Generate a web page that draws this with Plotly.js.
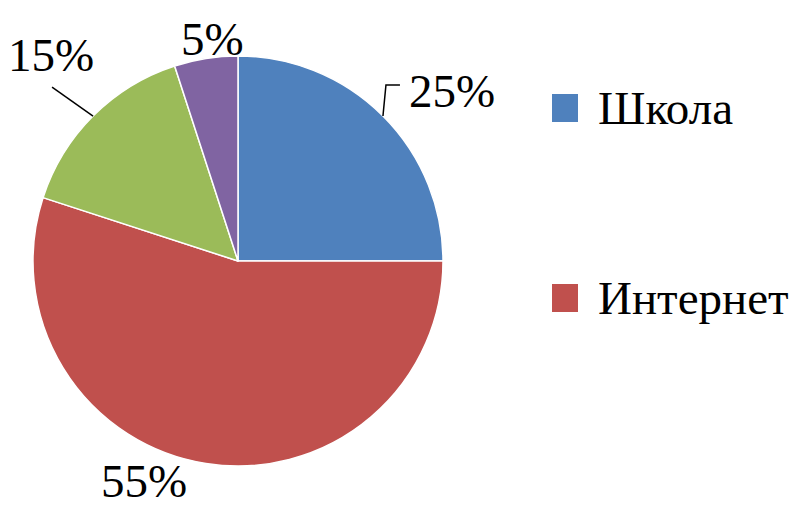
<!DOCTYPE html>
<html>
<head>
<meta charset="utf-8">
<script src="https://cdn.plot.ly/plotly-3.0.1.min.js"></script>
<style>html,body{margin:0;padding:0;background:#fff;}#chart{width:793px;height:507px;}</style>
</head>
<body>
<div id="chart"></div>
<script>
var categories = ["Школа", "Интернет", "Друзья", "Другое"];
var values = [25, 55, 15, 5];
var colors = ["#4F81BD", "#C0504D", "#9BBB59", "#8064A2"];
var legendItems = ["Школа", "Интернет"];

var W = 793, H = 507;
var FONT = "Liberation Serif";
var FS = 47;
// pie geometry (pixels)
var CX = 238, CY = 261, R = 205;
// label offsets from the slice's outer mid-point (pixels) and leader lines
var labelOffsets = [[69, -25], [-62, 18], [-42, -61], [7, -20]];
var leaderPaths = [[[3, -31], [17, -31]], null, [[-41, -29]], null];

var trace = {
  type: "pie",
  labels: categories,
  values: values,
  sort: false,
  direction: "clockwise",
  rotation: 0,
  marker: {colors: colors, line: {color: "#ffffff", width: 1.5}},
  textinfo: "none",
  showlegend: false,
  hoverinfo: "label+percent",
  domain: {x: [(CX - R) / W, (CX + R) / W], y: [1 - (CY + R) / H, 1 - (CY - R) / H]}
};

function px(x) { return x / W; }
function py(y) { return 1 - y / H; }

var shapes = [];
var annotations = [];

var total = values.reduce(function (a, b) { return a + b; }, 0);
var cum = 0;
values.forEach(function (v, i) {
  var mid = (cum + v / 2) / total * 2 * Math.PI;
  cum += v;
  var Px = CX + R * Math.sin(mid), Py = CY - R * Math.cos(mid);
  var pct = Math.round(v / total * 100) + "%";
  annotations.push({
    xref: "paper", yref: "paper",
    x: px(Px + labelOffsets[i][0]), y: py(Py + labelOffsets[i][1]),
    xanchor: "center", yanchor: "middle", showarrow: false,
    text: pct, font: {family: FONT, size: FS, color: "#000000"}
  });
  if (leaderPaths[i]) {
    var d = "M" + px(Px) + "," + py(Py);
    leaderPaths[i].forEach(function (o) { d += " L" + px(Px + o[0]) + "," + py(Py + o[1]); });
    shapes.push({type: "path", xref: "paper", yref: "paper", path: d,
      line: {color: "#000000", width: 1.5}});
  }
});

var legendY = [108, 298];
legendItems.forEach(function (name, i) {
  var idx = categories.indexOf(name);
  var yc = legendY[i];
  shapes.push({
    type: "rect", xref: "paper", yref: "paper",
    x0: px(552), x1: px(578), y0: py(yc + 14), y1: py(yc - 14),
    fillcolor: colors[idx], line: {width: 0}
  });
  annotations.push({
    xref: "paper", yref: "paper", x: px(596), y: py(yc),
    xanchor: "left", yanchor: "middle", showarrow: false,
    text: name, font: {family: FONT, size: FS, color: "#000000"}
  });
});

var layout = {
  width: W, height: H,
  margin: {l: 0, r: 0, t: 0, b: 0},
  paper_bgcolor: "#ffffff",
  font: {family: FONT, size: FS, color: "#000000"},
  showlegend: false,
  shapes: shapes,
  annotations: annotations
};

Plotly.newPlot("chart", [trace], layout, {displayModeBar: false, staticPlot: true});
</script>
</body>
</html>
